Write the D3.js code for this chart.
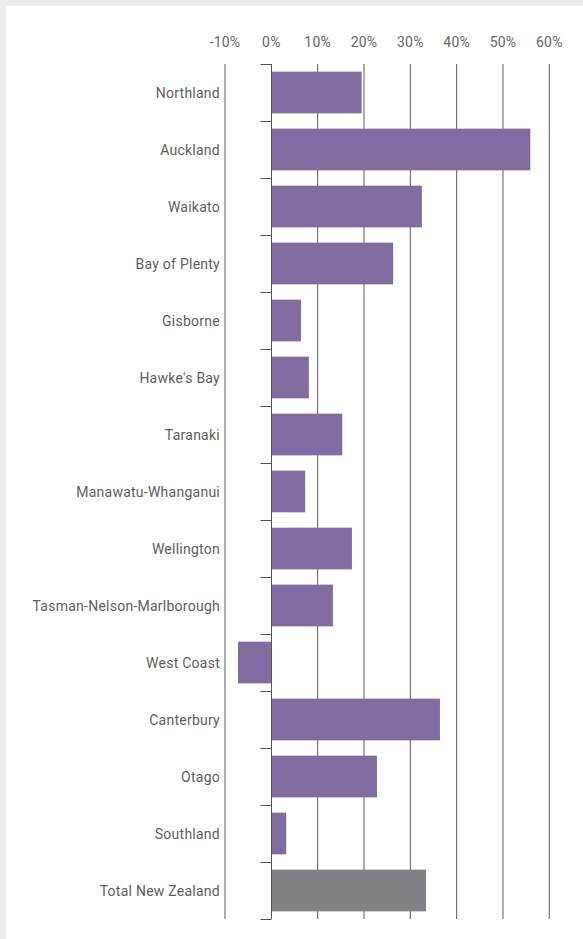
<!DOCTYPE html>
<html>
<head>
<meta charset="utf-8">
<script src="https://cdn.jsdelivr.net/npm/d3@7"></script>
<style>
  html, body { margin: 0; padding: 0; background: #ededed; }
  svg { display: block; }
  text { font-family: Roboto, "Noto Sans", sans-serif; }
</style>
</head>
<body>
<svg id="chart" width="583" height="939"></svg>
<script>
const regions = ["Northland", "Auckland", "Waikato", "Bay of Plenty", "Gisborne", "Hawke's Bay", "Taranaki", "Manawatu-Whanganui", "Wellington", "Tasman-Nelson-Marlborough", "West Coast", "Canterbury", "Otago", "Southland", "Total New Zealand"];
const growth = [19.5, 55.9, 32.5, 26.3, 6.4, 8.1, 15.3, 7.3, 17.4, 13.3, -7.2, 36.4, 22.8, 3.2, 33.4];
const xTicks = [-10, 0, 10, 20, 30, 40, 50, 60];
const totalLabel = "Total New Zealand";

const svg = d3.select("#chart");
svg.append("rect").attr("x", 6).attr("y", 6).attr("width", 577).attr("height", 933).attr("fill", "#fff");

const x = d3.scaleLinear().domain([-10, 60]).range([225, 549.3]);
const y = d3.scaleBand().domain(regions).range([64, 919]).paddingInner(0.268).paddingOuter(0.134);

// gridlines (except 0)
svg.append("g").selectAll("line").data(xTicks.filter(d => d !== 0)).join("line")
  .attr("x1", d => x(d)).attr("x2", d => x(d))
  .attr("y1", 64).attr("y2", 919)
  .attr("stroke", "#5a5a5a").attr("stroke-width", 1);

// top tick labels
svg.append("g").selectAll("text").data(xTicks).join("text")
  .attr("x", d => x(d)).attr("y", 47)
  .attr("text-anchor", "middle")
  .attr("font-size", 14).attr("fill", "#666")
  .attr("letter-spacing", "0.2px")
  .text(d => d + "%");

// bars
svg.append("g").selectAll("rect").data(regions).join("rect")
  .attr("x", (d, i) => x(Math.min(0, growth[i])))
  .attr("width", (d, i) => Math.abs(x(growth[i]) - x(0)))
  .attr("y", d => y(d))
  .attr("height", y.bandwidth())
  .attr("fill", d => d === totalLabel ? "#818285" : "#806ca0");

// y axis with ticks at band boundaries
const x0 = Math.round(x(0)) + 0.5;
const step = y.step();
const bounds = d3.range(regions.length + 1).map(i => 64 + i * step);
const ax = svg.append("g").attr("stroke", "#555").attr("stroke-width", 1);
ax.append("line").attr("x1", x0).attr("x2", x0).attr("y1", 64).attr("y2", 919);
ax.selectAll("line.tk").data(bounds).join("line").attr("class", "tk")
  .attr("x1", x0 - 11).attr("x2", x0)
  .attr("y1", d => Math.round(d) + 0.5).attr("y2", d => Math.round(d) + 0.5);

// category labels
svg.append("g").selectAll("text").data(regions).join("text")
  .attr("x", 220).attr("y", d => y(d) + y.bandwidth() / 2 + 0.8)
  .attr("dy", "0.35em")
  .attr("text-anchor", "end")
  .attr("font-size", 14).attr("fill", "#5e5e5e")
  .attr("letter-spacing", "0.25px")
  .text(d => d);
</script>
</body>
</html>
